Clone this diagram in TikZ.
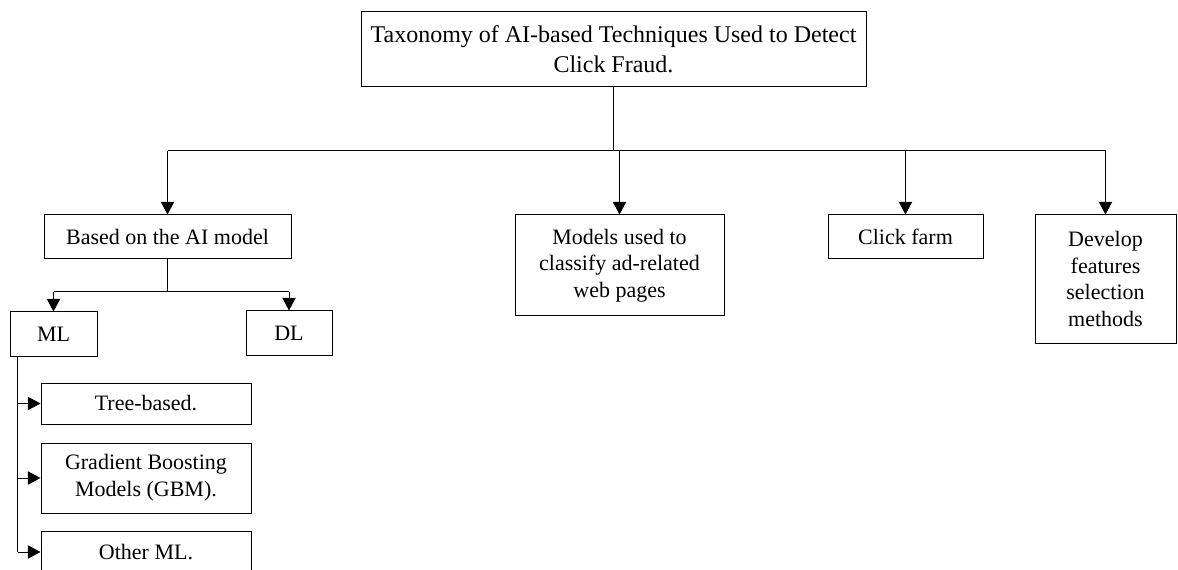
\documentclass[tikz,border=0pt]{standalone}
\usepackage{fontspec}
\setmainfont{Liberation Serif}
\usetikzlibrary{arrows.meta, positioning}

\begin{document}
\begin{tikzpicture}[x=0.75pt, y=-0.75pt, line width=0.75pt,
  every node/.style={font=\fontsize{16.5}{20}\selectfont},
  box/.style 2 args={draw, line width=0.75pt, align=center, inner sep=0pt,
    minimum width=#1*0.75pt, minimum height=#2*0.75pt},
  arr/.style={-{Triangle[length=9.5pt, width=10pt]}}]
  \clip (0,0) rectangle (1178,570);
  % root of the taxonomy
  \node[box={505}{75}, font=\fontsize{18}{22.5}\selectfont] (title) at (613.5,49.5)
    {Taxonomy of AI-based Techniques Used to Detect\\Click Fraud.};
  % first level
  \node[box={247}{44}] (aimodel) at (167.5,237) {Based on the AI model};
  \node[box={209}{101}] (models) at (619.5,265.5)
    {Models used to\\classify ad-related\\web pages};
  \node[box={155}{44}] (farm) at (905.5,237) {Click farm};
  \node[box={141}{128}] (develop) at (1105.5,279)
    {Develop\\features\\selection\\methods};
  % second level
  \node[box={87}{44}] (ml) at (53.5,334) {ML};
  \node[box={86}{44}] (dl) at (289,333) {DL};
  % ML families
  \node[box={210}{41}] (tree) at (146,403.5) {Tree-based.};
  \node[box={210}{70}] (gbm) at (146,478) {Gradient Boosting\\Models (GBM).};
  \node[box={210}{42}] (other) at (146,552) {Other ML.};
  % bus under the root
  \coordinate (bus) at (0,151);
  \draw (title.south) -- (title.south |- bus);
  \draw (aimodel.north |- bus) -- (develop.north |- bus);
  \foreach \n in {aimodel, models, farm, develop}
    \draw[arr] (\n.north |- bus) -- (\n.north);
  % split into ML and DL
  \coordinate (split) at (0,292);
  \draw (aimodel.south) -- (aimodel.south |- split);
  \draw (ml.north |- split) -- (dl.north |- split);
  \foreach \n in {ml, dl}
    \draw[arr] (\n.north |- split) -- (\n.north);
  % trunk out of ML
  \coordinate (trunk) at ([xshift=8*0.75pt]ml.south west);
  \draw (trunk) -- (trunk |- other.west);
  \foreach \n in {tree, gbm, other}
    \draw[arr] (trunk |- \n.west) -- (\n.west);
\end{tikzpicture}
\end{document}
